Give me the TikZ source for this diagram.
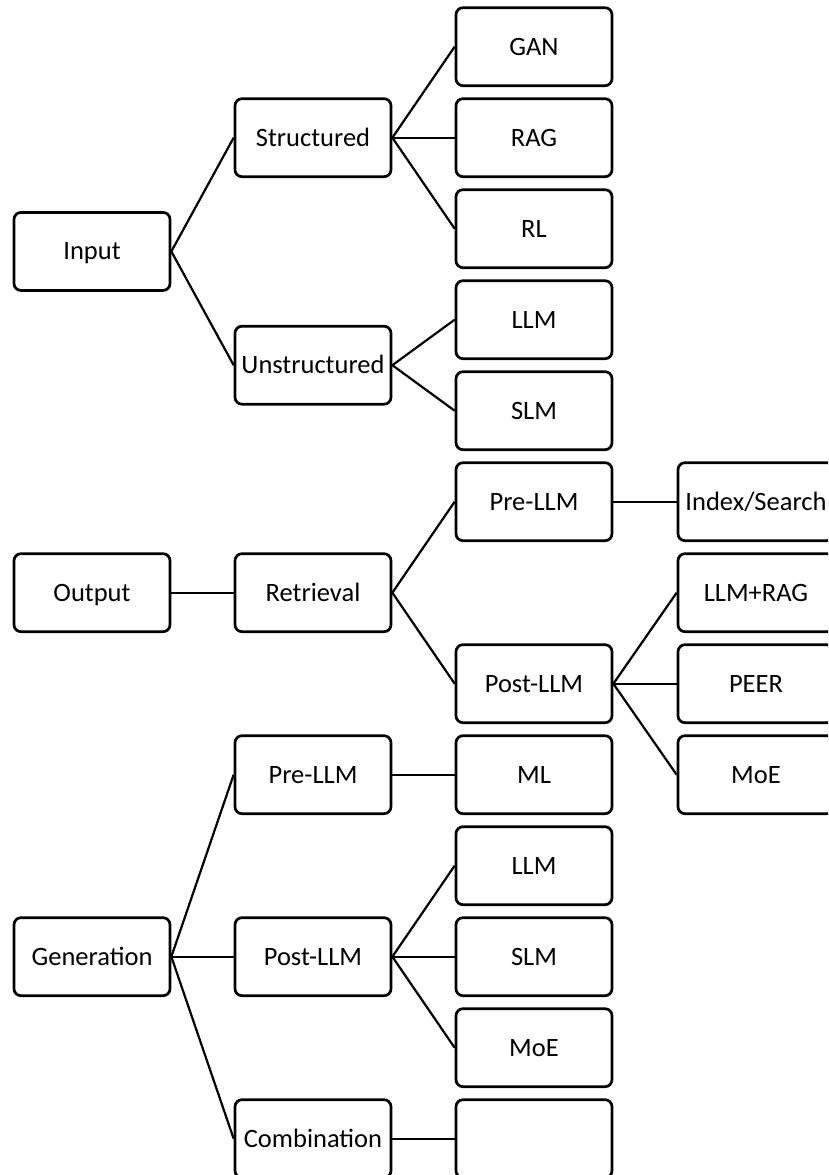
\documentclass[tikz,border=0pt]{standalone}
\usepackage{fontspec}
\setmainfont{Carlito}
\begin{document}
\begin{tikzpicture}[x=1pt,y=-1pt,
  box/.style={draw, line width=2.7pt, rounded corners=7pt, minimum width=156pt,
    minimum height=78pt, inner sep=0pt, text height=20pt, text depth=3pt,
    font=\fontsize{26.5}{30}\selectfont},
  link/.style={line width=2.2pt}]
\useasboundingbox (0,0) rectangle (828,1175);
\clip (0,0) rectangle (828,1175);
% column centres and row pitch
\def\ca{92}\def\cb{313}\def\cc{534}\def\cd{756}
\newcommand{\rowy}[1]{46.7+91*#1}
% Input branch
\node[box] (in) at (\ca,{\rowy{2.25}}) {Input};
\node[box] (st) at (\cb,{\rowy{1}}) {Structured};
\node[box] (un) at (\cb,{\rowy{3.5}}) {Unstructured};
\node[box] (gan) at (\cc,{\rowy{0}}) {GAN};
\node[box] (rag) at (\cc,{\rowy{1}}) {RAG};
\node[box] (rl) at (\cc,{\rowy{2}}) {RL};
\node[box] (llma) at (\cc,{\rowy{3}}) {LLM};
\node[box] (slma) at (\cc,{\rowy{4}}) {SLM};
% Output branch
\node[box] (out) at (\ca,{\rowy{6}}) {Output};
\node[box] (ret) at (\cb,{\rowy{6}}) {Retrieval};
\node[box] (prer) at (\cc,{\rowy{5}}) {Pre-LLM};
\node[box] (postr) at (\cc,{\rowy{7}}) {Post-LLM};
\node[box] (idx) at (\cd,{\rowy{5}}) {Index/Search};
\node[box] (lrag) at (\cd,{\rowy{6}}) {LLM+RAG};
\node[box] (peer) at (\cd,{\rowy{7}}) {PEER};
\node[box] (moea) at (\cd,{\rowy{8}}) {MoE};
% Generation branch
\node[box] (gen) at (\ca,{\rowy{10}}) {Generation};
\node[box] (preg) at (\cb,{\rowy{8}}) {Pre-LLM};
\node[box] (postg) at (\cb,{\rowy{10}}) {Post-LLM};
\node[box] (comb) at (\cb,{\rowy{12}}) {Combination};
\node[box] (ml) at (\cc,{\rowy{8}}) {ML};
\node[box] (llmb) at (\cc,{\rowy{9}}) {LLM};
\node[box] (slmb) at (\cc,{\rowy{10}}) {SLM};
\node[box] (moeb) at (\cc,{\rowy{11}}) {MoE};
\node[box] (blank) at (\cc,{\rowy{12}}) {};
% connectors
\foreach \p/\c in {in/st, in/un, st/gan, st/rag, st/rl, un/llma, un/slma,
  out/ret, ret/prer, ret/postr, prer/idx, postr/lrag, postr/peer, postr/moea,
  gen/preg, gen/postg, gen/comb, preg/ml, postg/llmb, postg/slmb, postg/moeb, comb/blank}
  \draw[link] (\p.east) -- (\c.west);
\end{tikzpicture}
\end{document}
